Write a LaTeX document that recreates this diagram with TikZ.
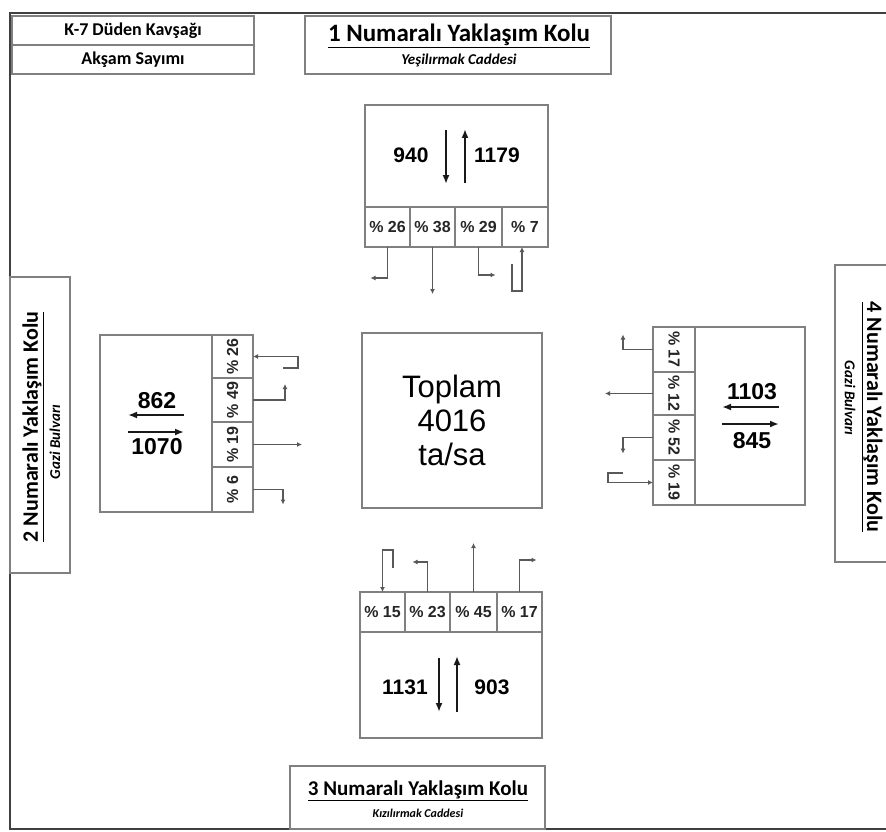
\documentclass[tikz,border=0pt]{standalone}
\usepackage{fontspec}
\usepackage{graphicx}
\setmainfont{Liberation Sans}
\newfontfamily\calfont{Carlito}
\usetikzlibrary{arrows.meta}
\begin{document}
\begin{tikzpicture}[x=1pt,y=-1pt]
\tikzset{
 frameline/.style={draw=black!75, line width=1.8pt},
 box/.style={draw=black!50, line width=1.1pt, inner sep=0pt, outer sep=0pt},
 ctext/.style={font=\bfseries\fontsize{16}{16}\selectfont, text=black!85},
 numt/.style={font=\bfseries\fontsize{21}{21}\selectfont, inner sep=0pt},
 numtw/.style={font=\bfseries\fontsize{23}{23}\selectfont, inner sep=0pt},
 bigarr/.style={draw=black!90, line width=2.4pt, -{Latex[length=9pt,width=7pt]}},
 turnarr/.style={draw=black!65, line width=1.3pt, -{Latex[length=5pt,width=5pt]}},
 ttl/.style={font=\calfont\bfseries\fontsize{22}{22}\selectfont, inner sep=0pt},
 subt/.style={font=\calfont\bfseries\itshape\fontsize{15}{15}\selectfont, inner sep=0pt},
 hdt/.style={box, font=\calfont\bfseries\fontsize{18}{18}\selectfont, minimum width=242, minimum height=29},
}
\useasboundingbox (0,0) rectangle (886,832);
\fill[white] (0,0) rectangle (886,832);
% outer frame
\draw[frameline] (892,13) -- (10,13) -- (10,829) -- (892,829);

% header
\node[hdt] (hd1) at (133,30.5) {K-7 Düden Kavşağı};
\node[hdt] (hd2) at (133,59.5) {Akşam Sayımı};

% label 1
\node[box, minimum width=306, minimum height=58] (lb1) at (458,45) {};
\node[ttl, font=\calfont\bfseries\fontsize{25}{25}\selectfont] (lb1t) at (459,36) {\underline{1 Numaralı Yaklaşım Kolu}};
\node[subt] (lb1s) at (459,60) {Yeşilırmak Caddesi};

% label 2
\node[box, minimum width=60, minimum height=296] (lb2) at (40,425) {};
\node[ttl, rotate=90] (lb2t) at (33,427) {\underline{2 Numaralı Yaklaşım Kolu}};
\node[subt, rotate=90] (lb2s) at (55,442) {Gazi Bulvarı};

% label 3
\node[box, minimum width=255, minimum height=63] (lb3) at (417.5,797.5) {};
\node[ttl, font=\calfont\bfseries\fontsize{21}{21}\selectfont] (lb3t) at (418,791) {\underline{3 Numaralı Yaklaşım Kolu}};
\node[subt, font=\calfont\bfseries\itshape\fontsize{12}{12}\selectfont] (lb3s) at (418,813) {Kızılırmak Caddesi};

% label 4
\node[box, minimum width=60, minimum height=297] (lb4) at (865,413.5) {};
\node[ttl, rotate=-90] (lb4t) at (872,417) {\underline{4 Numaralı Yaklaşım Kolu}};
\node[subt, rotate=-90] (lb4s) at (850,398) {Gazi Bulvarı};

% centre
\node[box, minimum width=180, minimum height=175, align=center,
      font=\fontsize{31}{34}\selectfont] (tot) at (452,420.5) {Toplam\\4016\\ta/sa};

% ---------------- north
\node[box, minimum width=183, minimum height=102] (nbox) at (456.5,156) {};
\node[box, ctext, minimum width=45, minimum height=40] (n1) at (387.5,227) {\% 26};
\node[box, ctext, minimum width=45, minimum height=40] (n2) at (432.5,227) {\% 38};
\node[box, ctext, minimum width=47, minimum height=40] (n3) at (478.5,227) {\% 29};
\node[box, ctext, minimum width=46, minimum height=40] (n4) at (525,227) {\% 7};
\node[numt] (nt1) at (411,155) {940};
\node[numt] (nt2) at (497,155) {1179};
\coordinate (na1) at (446,130); \coordinate (na2) at (446,184);
\coordinate (na3) at (465,183); \coordinate (na4) at (465,129);
\draw[bigarr] (na1) -- (na2);
\draw[bigarr] (na3) -- (na4);
\draw[turnarr] (n1.south) -- ++(0,31) -- ++(-17,0);
\draw[turnarr] (n2.south) -- ++(0,47);
\draw[turnarr] (n3.south) -- ++(0,28) -- ++(17,0);
\draw[turnarr] ([xshift=-13pt,yshift=-17pt]n4.south) -- ++(0,27) -- ++(10,0) -- ([xshift=-3pt]n4.south);

% ---------------- west
\node[box, minimum width=112, minimum height=177] (wbox) at (156,423.5) {};
\node[box, ctext, minimum width=41, minimum height=43] (w1) at (232.5,356.5) {\rotatebox{90}{\% 26}};
\node[box, ctext, minimum width=41, minimum height=44] (w2) at (232.5,400) {\rotatebox{90}{\% 49}};
\node[box, ctext, minimum width=41, minimum height=45] (w3) at (232.5,444.5) {\rotatebox{90}{\% 19}};
\node[box, ctext, minimum width=41, minimum height=45] (w4) at (232.5,489.5) {\rotatebox{90}{\% 6}};
\node[numtw] (wt1) at (157,401) {862};
\node[numtw] (wt2) at (157,447) {1070};
\coordinate (wa1) at (184,415); \coordinate (wa2) at (128,415);
\coordinate (wa3) at (128,432); \coordinate (wa4) at (184,432);
\draw[bigarr] (wa1) -- (wa2);
\draw[bigarr] (wa3) -- (wa4);
\draw[turnarr] ([xshift=30pt,yshift=-11.5pt]w1.east) -- ++(15,0) -- ++(0,-11.5) -- (w1.east);
\draw[turnarr] (w2.east) -- ++(32,0) -- ++(0,-16);
\draw[turnarr] (w3.east) -- ++(49,0);
\draw[turnarr] (w4.east) -- ++(30,0) -- ++(0,15);

% ---------------- east
\node[box, minimum width=110, minimum height=178] (ebox) at (750,416) {};
\node[box, ctext, minimum width=42, minimum height=45] (e1) at (674,349.5) {\rotatebox{-90}{\% 17}};
\node[box, ctext, minimum width=42, minimum height=43] (e2) at (674,393.5) {\rotatebox{-90}{\% 12}};
\node[box, ctext, minimum width=42, minimum height=45] (e3) at (674,437.5) {\rotatebox{-90}{\% 52}};
\node[box, ctext, minimum width=42, minimum height=45] (e4) at (674,482.5) {\rotatebox{-90}{\% 19}};
\node[numtw] (et1) at (752,392) {1103};
\node[numtw] (et2) at (752,441) {845};
\coordinate (ea1) at (779,407); \coordinate (ea2) at (722,407);
\coordinate (ea3) at (722,424); \coordinate (ea4) at (779,424);
\draw[bigarr] (ea1) -- (ea2);
\draw[bigarr] (ea3) -- (ea4);
\draw[turnarr] (e1.west) -- ++(-30,0) -- ++(0,-15);
\draw[turnarr] (e2.west) -- ++(-48,0);
\draw[turnarr] (e3.west) -- ++(-30,0) -- ++(0,16);
\draw[turnarr] ([xshift=-30pt,yshift=9.5pt]e4.west) -- ++(-15,0) -- ++(0,9.5) -- (e4.west);

% ---------------- south
\node[box, minimum width=182, minimum height=106] (sbox) at (451,685) {};
\node[box, ctext, minimum width=45, minimum height=40] (s1) at (382.5,612) {\% 15};
\node[box, ctext, minimum width=45, minimum height=40] (s2) at (427.5,612) {\% 23};
\node[box, ctext, minimum width=47, minimum height=40] (s3) at (473.5,612) {\% 45};
\node[box, ctext, minimum width=45, minimum height=40] (s4) at (519.5,612) {\% 17};
\node[numt] (st1) at (405,687) {1131};
\node[numt] (st2) at (492,687) {903};
\coordinate (sa1) at (439,658); \coordinate (sa2) at (439,712);
\coordinate (sa3) at (457,712); \coordinate (sa4) at (457,656);
\draw[bigarr] (sa1) -- (sa2);
\draw[bigarr] (sa3) -- (sa4);
\draw[turnarr] ([xshift=10.5pt,yshift=24pt]s1.north) -- ++(0,-18) -- ++(-10.5,0) -- (s1.north);
\draw[turnarr] (s2.north) -- ++(0,-30) -- ++(-15,0);
\draw[turnarr] (s3.north) -- ++(0,-49);
\draw[turnarr] (s4.north) -- ++(0,-32) -- ++(17,0);
\end{tikzpicture}
\end{document}
